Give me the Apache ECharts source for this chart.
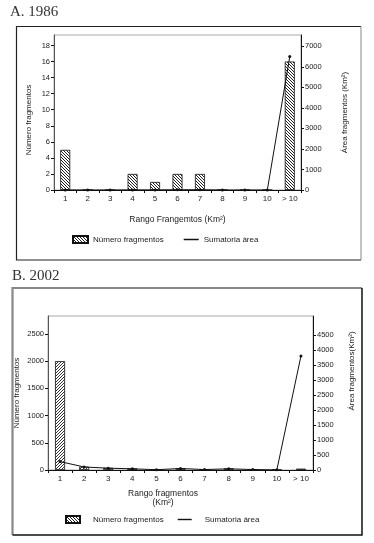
<!DOCTYPE html>
<html>
<head>
<meta charset="utf-8">
<script src="https://cdn.jsdelivr.net/npm/echarts@6/dist/echarts.min.js"></script>
<style>
html,body{margin:0;padding:0;background:#fff;}
#c{width:374px;height:543px;}
</style>
</head>
<body>
<div id="c"></div>
<script>
// ---- data ----
const categories = ['1','2','3','4','5','6','7','8','9','10','> 10'];
const fragments1986 = [5, 0, 0, 2, 1, 2, 2, 0, 0, 0, 16];
const area1986 = [3, 0, 0, 6, 4, 12, 14, 0, 0, 0, 6500];
const fragments2002 = [2000, 60, 40, 30, 5, 30, 10, 30, 10, 5, 25];
const area2002 = [280, 100, 60, 40, 10, 50, 15, 40, 15, 5, 3800];
const leftTicks1986 = [0, 2, 4, 6, 8, 10, 12, 14, 16, 18];
const rightTicks1986 = [0, 1000, 2000, 3000, 4000, 5000, 6000, 7000];
const leftTicks2002 = [0, 500, 1000, 1500, 2000, 2500];
const rightTicks2002 = [0, 500, 1000, 1500, 2000, 2500, 3000, 3500, 4000, 4500];

const FONT = '"Liberation Sans", Arial, sans-serif';

function hatch(dir, s, color) {
  const c = document.createElement('canvas');
  c.width = s; c.height = s;
  const g = c.getContext('2d');
  g.fillStyle = '#fff'; g.fillRect(0, 0, s, s);
  g.strokeStyle = color; g.lineWidth = 1;
  g.beginPath();
  for (let k = -1; k <= 1; k++) {
    if (dir === 'back') { g.moveTo(k * s, 0); g.lineTo(k * s + s, s); }
    else { g.moveTo(k * s, s); g.lineTo(k * s + s, 0); }
  }
  g.stroke();
  return { image: c, repeat: 'repeat' };
}
const hatchA = hatch('back', 3, '#222');
const hatchB = hatch('fwd', 3, '#333');

function yAxis(grid, pos, max, ticks, name, gap, pad) {
  return {
    type: 'value', gridIndex: grid, position: pos, min: 0, max: max,
    axisLine: { show: true, lineStyle: { color: pos === 'left' ? '#555' : '#111', width: 1 } },
    axisTick: { show: true, inside: false, length: 3, lineStyle: { color: '#111' }, customValues: ticks },
    axisLabel: { fontFamily: FONT, fontSize: 7.5, color: '#222', margin: 4, customValues: ticks,
                 formatter: v => String(v) },
    splitLine: { show: false },
    name: name, nameLocation: 'middle', nameGap: gap, nameRotate: 90, nameMoveOverlap: false,
    nameTextStyle: { fontFamily: FONT, fontSize: 8, color: '#222', padding: pad }
  };
}
function xAxis(grid, name, gap, pad) {
  return {
    type: 'category', gridIndex: grid, data: categories, boundaryGap: true,
    axisLine: { show: true, lineStyle: { color: '#111', width: 1 } },
    axisTick: { show: true, length: 3, alignWithLabel: false, lineStyle: { color: '#111' } },
    axisLabel: { fontFamily: FONT, fontSize: 8, color: '#222', margin: 5, interval: 0 },
    name: name, nameLocation: 'middle', nameGap: gap, nameMoveOverlap: false,
    nameTextStyle: { fontFamily: FONT, fontSize: 8.5, color: '#222', padding: pad, lineHeight: 9 }
  };
}

const TITLE_STYLE = { fontFamily: '"Liberation Serif", "Times New Roman", serif', fontSize: 15, fontWeight: 'normal', color: '#333' };

const chart = echarts.init(document.getElementById('c'), null, { renderer: 'canvas' });
chart.setOption({
  animation: false,
  backgroundColor: '#fff',
  title: [
    { text: 'A. 1986', left: 10, top: 5, padding: 0, textStyle: TITLE_STYLE },
    { text: 'B. 2002', left: 12, top: 269, padding: 0, textStyle: TITLE_STYLE }
  ],
  graphic: [
    { type: 'polyline', shape: { points: [[361, 26.5], [16.5, 26.5], [16.5, 260], [361, 260]] }, style: { stroke: '#222', lineWidth: 1.2, fill: null }, silent: true },
    { type: 'line', shape: { x1: 361, y1: 26.5, x2: 361, y2: 260 }, style: { stroke: '#888', lineWidth: 1 }, silent: true },
    { type: 'polyline', shape: { points: [[12.5, 535], [12.5, 288], [362, 288]] }, style: { stroke: '#888', lineWidth: 2.2, fill: null }, silent: true },
    { type: 'polyline', shape: { points: [[362, 288], [362, 535], [12.5, 535]] }, style: { stroke: '#111', lineWidth: 1.5, fill: null }, silent: true }
  ],
  legend: [
    { left: 72, top: 235, padding: 0, itemWidth: 15, itemHeight: 7, itemGap: 20,
      textStyle: { fontFamily: FONT, fontSize: 8, color: '#222' },
      data: [ { name: 'Número fragmentos', icon: 'rect' },
              { name: 'Sumatoria área', icon: 'path://M0,9 L10,9 L10,10 L0,10 Z' } ] },
    { left: 65, top: 515, padding: 0, itemWidth: 14, itemHeight: 7, itemGap: 14,
      textStyle: { fontFamily: FONT, fontSize: 8, color: '#222', padding: [0, 0, 0, 8] },
      data: [ { name: 'Número fragmentos', icon: 'rect' },
              { name: 'Sumatoria área', icon: 'path://M0,9 L10,9 L10,10 L0,10 Z' } ] }
  ],
  grid: [
    { left: 54, top: 35, width: 247, height: 155, show: true, borderColor: '#aaa', borderWidth: 1, outerBoundsMode: 'none', containLabel: false },
    { left: 48, top: 316, width: 265, height: 154, show: true, borderColor: '#aaa', borderWidth: 1, outerBoundsMode: 'none', containLabel: false }
  ],
  xAxis: [
    xAxis(0, 'Rango Frangemtos (Km²)', 25, [0, 0, 0, 0]),
    xAxis(1, 'Rango fragmentos\n(Km²)', 19, [0, 35, 0, 0])
  ],
  yAxis: [
    yAxis(0, 'left', 19.3, leftTicks1986, 'Número fragmentos', 21, [0, 15, 0, 0]),
    yAxis(0, 'right', 7550, rightTicks1986, 'Área fragmentos (Km²)', 40, [0, 0, 0, 0]),
    yAxis(1, 'left', 2830, leftTicks2002, 'Número fragmentos', 27, [0, 0, 0, 0]),
    yAxis(1, 'right', 5130, rightTicks2002, 'Área fragmentos(Km²)', 35, [0, 0, 0, 44])
  ],
  series: [
    { name: 'Número fragmentos', type: 'bar', xAxisIndex: 0, yAxisIndex: 0, data: fragments1986, barWidth: 10,
      itemStyle: { color: hatchA, borderColor: '#111', borderWidth: 0.8 } },
    { name: 'Sumatoria área', type: 'line', xAxisIndex: 0, yAxisIndex: 1, data: area1986, z: 5,
      symbol: 'circle', symbolSize: 3, itemStyle: { color: '#111' }, lineStyle: { color: '#111', width: 1 } },
    { name: 'Número fragmentos', type: 'bar', xAxisIndex: 1, yAxisIndex: 2, data: fragments2002, barWidth: 10,
      itemStyle: { color: hatchB, borderColor: '#111', borderWidth: 0.8 } },
    { name: 'Sumatoria área', type: 'line', xAxisIndex: 1, yAxisIndex: 3, data: area2002, z: 5,
      symbol: 'circle', symbolSize: 3, itemStyle: { color: '#111' }, lineStyle: { color: '#111', width: 1 } }
  ]
});
</script>
</body>
</html>
